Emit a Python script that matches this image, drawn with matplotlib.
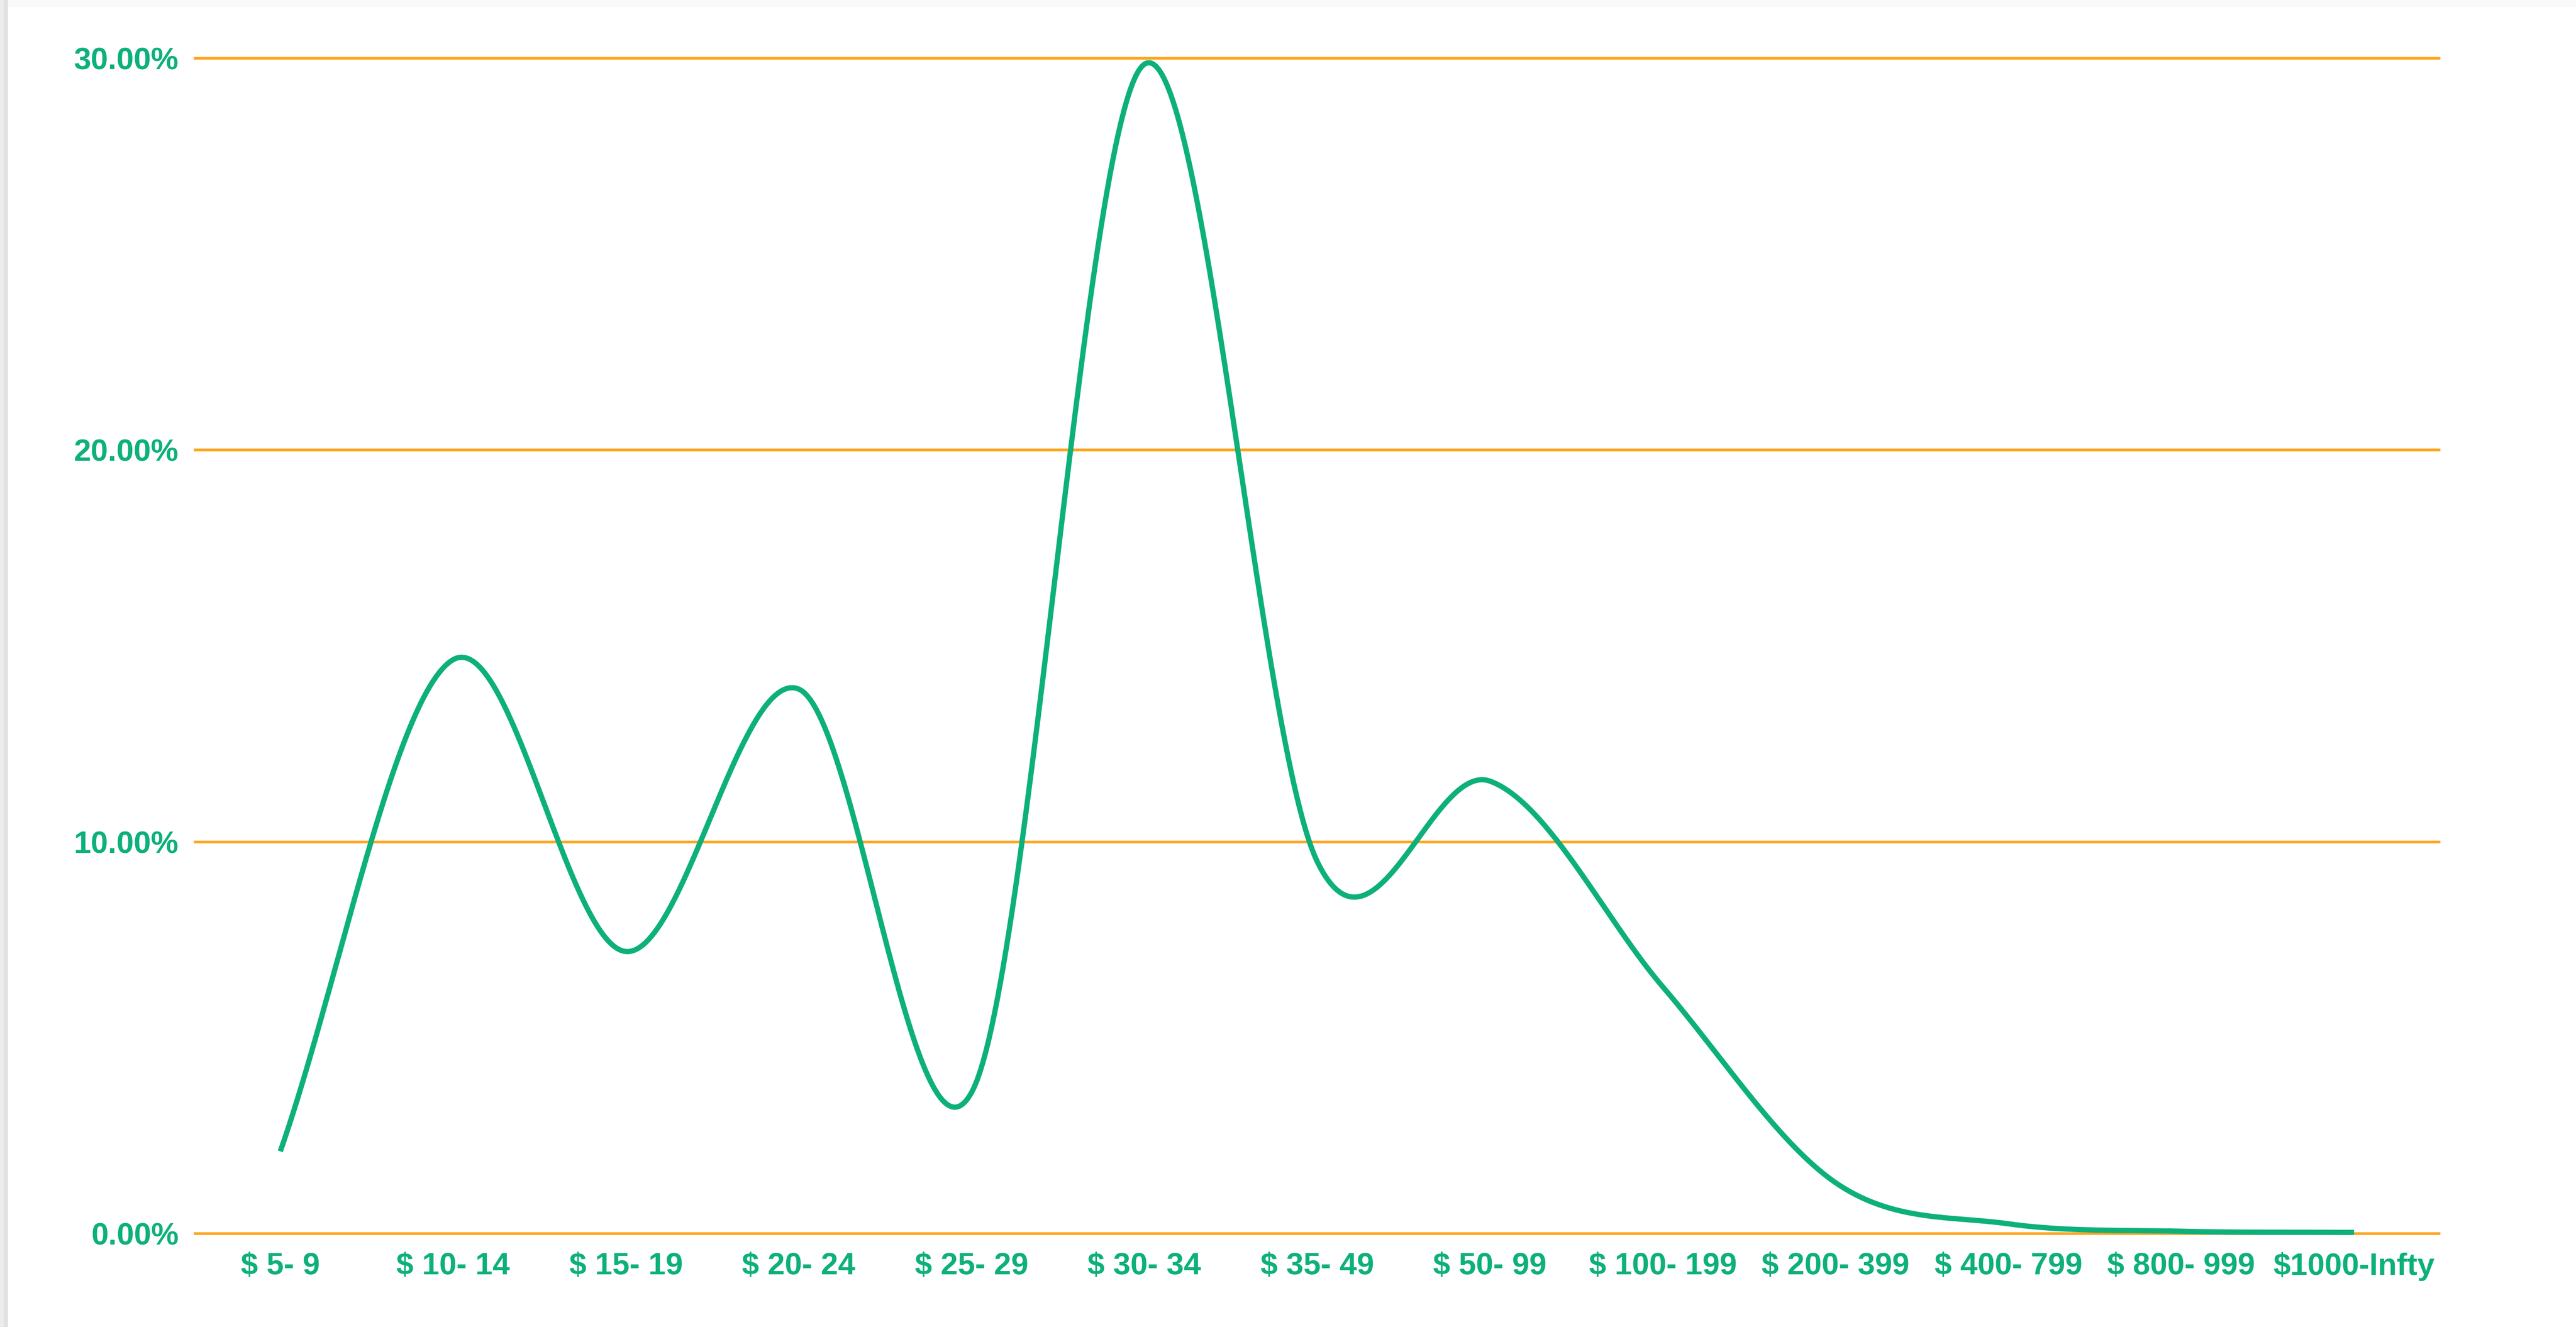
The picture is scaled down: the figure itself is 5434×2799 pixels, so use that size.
import numpy as np
import matplotlib
matplotlib.use("Agg")
import matplotlib.pyplot as plt
from matplotlib.patches import Rectangle
from matplotlib.ticker import PercentFormatter

# price bands and share of items in each band
price_bands = [
    "$ 5- 9", "$ 10- 14", "$ 15- 19", "$ 20- 24", "$ 25- 29", "$ 30- 34",
    "$ 35- 49", "$ 50- 99", "$ 100- 199", "$ 200- 399", "$ 400- 799",
    "$ 800- 999", "$1000-Infty",
]
share = [0.021, 0.1465, 0.072, 0.139, 0.036, 0.2985,
         0.095, 0.1155, 0.063, 0.013, 0.0025, 0.0006, 0.0003]
y_ticks = [0.0, 0.10, 0.20, 0.30]

GREEN = "#0DB07B"
ORANGE = "#FFA41B"

plt.rcParams["font.family"] = ["Liberation Sans", "DejaVu Sans"]
plt.rcParams["font.weight"] = "bold"


def smooth_line(values, n=60):
    # uniform Catmull-Rom through every point, ends extended by reflection
    p = np.asarray(values, dtype=float)
    ext = np.concatenate([[2 * p[0] - p[1]], p, [2 * p[-1] - p[-2]]])
    xs, ys = [], []
    t = np.linspace(0, 1, n, endpoint=False)
    h00 = 2 * t**3 - 3 * t**2 + 1
    h10 = t**3 - 2 * t**2 + t
    h01 = -2 * t**3 + 3 * t**2
    h11 = t**3 - t**2
    for i in range(len(p) - 1):
        m0 = (ext[i + 2] - ext[i]) / 2
        m1 = (ext[i + 3] - ext[i + 1]) / 2
        ys.append(h00 * p[i] + h10 * m0 + h01 * p[i + 1] + h11 * m1)
        xs.append(i + t)
    xs.append([len(p) - 1])
    ys.append([p[-1]])
    return np.concatenate(xs), np.concatenate(ys)


W, H = 5434, 2799
fig = plt.figure(figsize=(W / 100, H / 100), dpi=100)
fig.patch.set_facecolor("white")

# window edge shading
fig.add_artist(Rectangle((0, 1 - 15 / H), 1, 15 / H, transform=fig.transFigure,
                         color="#f9f9f9", lw=0, zorder=0))
fig.add_artist(Rectangle((0, 0), 17 / W, 1, transform=fig.transFigure,
                         color="#e2e2e2", lw=0, zorder=0))
fig.add_artist(Rectangle((0, 0), 8 / W, 1, transform=fig.transFigure,
                         color="#ececec", lw=0, zorder=0))

ax = fig.add_axes([409 / W, 1 - 2614.4 / H, (5148 - 409) / W, (2614.4 - 110.6) / H])
ax.set_facecolor("none")

x = np.arange(len(price_bands))
xs, ys = smooth_line(share)
ax.plot(xs, ys, color=GREEN, lw=8, solid_capstyle="butt", zorder=3)

ax.set_xlim(-0.5, len(price_bands) - 0.5)
ax.set_ylim(-0.0015, 0.3015)
ax.set_xticks(x)
ax.set_xticklabels(price_bands)
ax.set_yticks(y_ticks)
ax.yaxis.set_major_formatter(PercentFormatter(xmax=1, decimals=2))

for s in ax.spines.values():
    s.set_visible(False)
ax.tick_params(axis="both", length=0, colors=GREEN, labelsize=47)
ax.tick_params(axis="y", pad=23)
ax.tick_params(axis="x", pad=19)
ax.yaxis.grid(True, color=ORANGE, lw=4)
ax.xaxis.grid(False)
ax.set_axisbelow(True)

fig.savefig("out.png", dpi=100, facecolor="white")
